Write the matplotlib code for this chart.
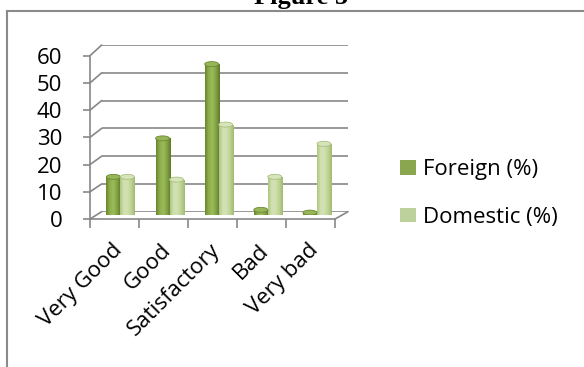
import matplotlib.pyplot as plt
import numpy as np
from matplotlib.colors import LinearSegmentedColormap
from matplotlib.patches import Ellipse, Patch, ConnectionPatch
from matplotlib.lines import Line2D
from matplotlib.transforms import ScaledTranslation

plt.rcParams['font.family'] = ['Open Sans', 'DejaVu Sans']

categories = ['Very Good', 'Good', 'Satisfactory', 'Bad', 'Very bad']
foreign = [14, 28, 55, 2, 1]
domestic = [14, 13, 33, 14, 26]
series_labels = ['Foreign (%)', 'Domestic (%)']
y_ticks = [0, 10, 20, 30, 40, 50, 60]

W, H = 584, 367
GRID = '#878787'
FONT = 16


def px_rect(left, top, right, bottom):
    # pixel box (measured from the top-left corner) -> figure fraction rect
    return [left / W, 1 - bottom / H, (right - left) / W, (bottom - top) / H]


fig = plt.figure(figsize=(W / 100, H / 100), dpi=100)

# page frame around the chart
fig.add_artist(Line2D([7 / W, 7 / W], [0, 1 - 11 / H], color='#8a8a8a', lw=1.5,
                      transform=fig.transFigure))
fig.add_artist(Line2D([7 / W, 1], [1 - 11 / H, 1 - 11 / H], color='#8a8a8a', lw=1.5,
                      transform=fig.transFigure))
fig.text(301 / W, 1 - 4 / H, 'Figure 5', family='Liberation Serif', weight='bold',
         fontsize=19, ha='center', va='baseline')

# three planes: back wall, bar depth, front axis
ax_back = fig.add_axes(px_rect(101.7, 45, 348, 211.7), zorder=0)
ax_mid = fig.add_axes(px_rect(95.85, 50.35, 341.5, 215.35), zorder=1)
ax_front = fig.add_axes(px_rect(90, 55.7, 335, 219), zorder=2)
for ax in (ax_back, ax_mid, ax_front):
    ax.set_xlim(-0.5, 4.5)
    ax.set_ylim(0, 60)
    ax.patch.set_visible(False)
ax_back.axis('off')
ax_mid.axis('off')

for v in y_ticks:
    ax_back.axhline(v, color=GRID, lw=1.2)
    # side wall lines
    ax_front.add_artist(ConnectionPatch(xyA=(-0.5, v), coordsA=ax_front.transData,
                                        xyB=(-0.5, v), coordsB=ax_back.transData,
                                        color=GRID, lw=1.2))
ax_front.add_artist(ConnectionPatch(xyA=(4.5, 0), coordsA=ax_front.transData,
                                    xyB=(4.5, 0), coordsB=ax_back.transData,
                                    color=GRID, lw=1.2))

# front axis
for s in ['top', 'right']:
    ax_front.spines[s].set_visible(False)
for s in ['left', 'bottom']:
    ax_front.spines[s].set_color(GRID)
    ax_front.spines[s].set_linewidth(1.2)
ax_front.set_yticks(y_ticks)
ax_front.tick_params(axis='y', direction='out', length=5, width=1.2, color=GRID,
                     pad=15, labelsize=FONT)
x = np.arange(len(categories))
ax_front.set_xticks(np.arange(len(categories) + 1) - 0.5)
ax_front.set_xticklabels([])
ax_front.set_xticks(x, minor=True)
ax_front.set_xticklabels(categories, minor=True, rotation=45, ha='right', va='top',
                         rotation_mode='anchor', fontsize=FONT)
ax_front.tick_params(axis='x', which='major', direction='out', length=6.5, width=1.2,
                     color=GRID)
ax_front.tick_params(axis='x', which='minor', length=0, pad=15)
shift = ScaledTranslation(-3 / 100, 0, fig.dpi_scale_trans)
for lbl in ax_front.get_xticklabels(minor=True):
    lbl.set_transform(lbl.get_transform() + shift)

# cylinders
w = 0.285
cap_h = 1.8
grad = np.linspace(0, 1, 64).reshape(1, -1)
foreign_cmap = LinearSegmentedColormap.from_list(
    'foreign', ['#68862f', '#8eaf4c', '#9cbc5b', '#82a243', '#5d7829'])
domestic_cmap = LinearSegmentedColormap.from_list(
    'domestic', ['#adc57d', '#d2e1b3', '#d0e0af', '#bed394', '#a2ba70'])
groups = [
    (foreign, x - w / 2, foreign_cmap, '#98b558', '#6b8a33', '#7e9c3f'),
    (domestic, x + w / 2, domestic_cmap, '#d7e5bd', '#a9c07e', '#b9cf90'),
]
for values, pos, cmap, top_face, top_edge, body in groups:
    bars = ax_mid.bar(pos, values, width=w, color=body, linewidth=0, zorder=1.5)
    for bar, v in zip(bars, values):
        x0 = bar.get_x()
        ax_mid.add_patch(Ellipse((x0 + w / 2, 0), w, cap_h, facecolor=top_edge,
                                 linewidth=0, zorder=1))
        im = ax_mid.imshow(grad, cmap=cmap, extent=(x0, x0 + w, 0, v), aspect='auto',
                           zorder=2)
        im.set_clip_path(bar)
        ax_mid.add_patch(Ellipse((x0 + w / 2, v), w, cap_h, facecolor=top_face,
                                 edgecolor=top_edge, lw=0.6, zorder=3))
ax_mid.set_xlim(-0.5, 4.5)
ax_mid.set_ylim(0, 60)

handles = [Patch(facecolor='#8aa64f'), Patch(facecolor='#bcd19b')]
fig.legend(handles, series_labels, loc='center left',
           bbox_to_anchor=(400 / W, 1 - 193.5 / H), frameon=False, fontsize=FONT,
           handlelength=0.72, handleheight=0.63, handletextpad=0.33, labelspacing=1.2,
           borderpad=0, borderaxespad=0)

fig.savefig('out.png', dpi=100)
